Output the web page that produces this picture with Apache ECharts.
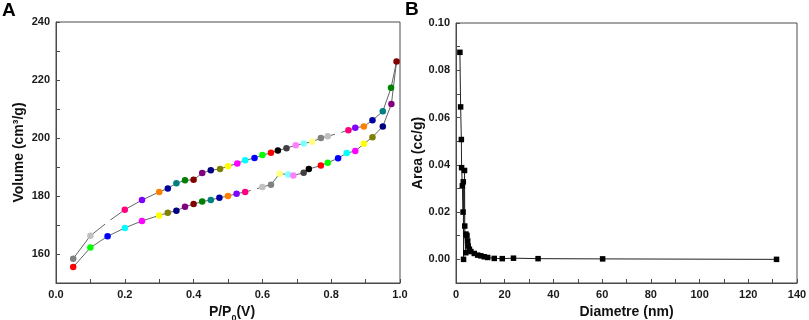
<!DOCTYPE html>
<html><head><meta charset="utf-8">
<script src="https://cdn.jsdelivr.net/npm/echarts@6/dist/echarts.min.js"></script>
<style>html,body{margin:0;padding:0;background:#fff}#c{width:809px;height:320px}</style>
</head><body><div id="c"></div>
<script>
// Panel A: N2 isotherm, adsorption (lower) then desorption (upper)
const adsP = [0.05,0.10,0.15,0.20,0.25,0.30,0.325,0.35,0.375,0.40,0.425,0.45,0.475,0.50,0.525,0.55,0.575,0.60,0.625,0.65,0.675,0.69,0.72,0.735,0.77,0.79,0.82,0.845,0.87,0.895,0.92,0.95,0.975,0.99];
const adsV = [155.5,162.2,166.1,169.0,171.4,173.3,174.2,174.9,176.3,177.2,178.1,178.6,179.4,180.0,180.8,181.4,182.2,183.1,183.9,187.7,187.4,187.1,188.0,189.3,190.5,191.5,193.0,194.8,195.5,198.0,200.3,204.0,211.7,226.4];
const desP = [0.974,0.95,0.92,0.895,0.87,0.85,0.82,0.79,0.77,0.745,0.72,0.697,0.67,0.645,0.625,0.60,0.577,0.55,0.527,0.50,0.477,0.45,0.425,0.40,0.375,0.35,0.325,0.30,0.25,0.20,0.15,0.10,0.05];
const desV = [217.3,209.2,206.1,204.0,203.5,202.7,201.6,200.6,200.0,198.7,198.1,197.5,196.5,195.7,194.9,194.1,193.1,192.3,191.2,190.3,189.3,188.9,187.9,185.6,185.4,184.4,182.6,181.4,178.6,175.3,171.0,166.3,158.4];
// Panel B: pore size distribution
const diam = [1.6,1.9,2.2,2.3,2.6,2.9,3.0,3.1,3.5,3.6,4.0,4.1,4.5,4.8,5.0,5.5,6.1,7.5,8.9,10.2,11.6,13.0,15.7,19.0,23.6,33.7,60.2,131.6];
const area = [0.0876,0.0645,0.0507,0.0388,0.0311,0.0200,0.0328,0.0000,0.0376,0.0141,0.0028,0.0107,0.0101,0.0078,0.0057,0.0043,0.0033,0.0025,0.0018,0.0015,0.0011,0.0008,0.0004,0.0003,0.0005,0.0003,0.0002,0.0000];
// Origin default colour cycle used for the isotherm points
const originPalette = ['#000000','#FF0000','#00FF00','#0000FF','#00FFFF','#FF00FF','#FFFF00','#808000','#000080','#800080','#800000','#008000','#008080','#0000A0','#FF8000','#8000FF','#FF0080','#FFFFFF','#C0C0C0','#808080','#FFFF80','#80FFFF','#FF80FF','#404040'];
const xTicksA = ['0.0','0.2','0.4','0.6','0.8','1.0'];

const isoP = adsP.concat(desP), isoV = adsV.concat(desV);
const isoData = isoP.map((p,i)=>({value:[p,isoV[i]], itemStyle:{color: originPalette[(i+1)%originPalette.length]}}));
const psdData = diam.map((d,i)=>[d,area[i]]);

const FONT = 'Liberation Sans, Arial, sans-serif';
const lineCol = '#4a4a4a';
function labelStyle(fmt){
  return {fontFamily:FONT,fontWeight:'bold',fontSize:11,color:'#1a1a1a',margin:6,interval:0,formatter:fmt};
}
function axisCommon(extra){
  return Object.assign({
    axisLine:{show:true,onZero:false,lineStyle:{color:lineCol,width:1}},
    axisTick:{show:true,inside:true,length:4,lineStyle:{color:lineCol,width:1}},
    splitLine:{show:false},
    nameLocation:'middle',
    nameTextStyle:{fontFamily:FONT,fontWeight:'bold',fontSize:14,color:'#111'}
  }, extra);
}
const chart = echarts.init(document.getElementById('c'), null, {renderer:'canvas'});
chart.setOption({
  animation:false,
  backgroundColor:'#fff',
  graphic:[
    {type:'text',left:2,top:1,style:{text:'A',font:'bold 19px '+FONT,fill:'#000'}},
    {type:'text',left:405,top:0,style:{text:'B',font:'bold 19px '+FONT,fill:'#000'}}
  ],
  grid:[
    {left:56,top:22,width:344,height:261,show:true,borderColor:lineCol,borderWidth:1,containLabel:false,outerBoundsMode:'none'},
    {left:456,top:23,width:341,height:260,show:true,borderColor:lineCol,borderWidth:1,containLabel:false,outerBoundsMode:'none'}
  ],
  xAxis:[
    axisCommon({gridIndex:0,type:'value',min:0,max:1,interval:0.1,name:'{m|P/P}{s|0}{m|(V)}',nameGap:11,
      nameTextStyle:{fontFamily:FONT,fontWeight:'bold',fontSize:14,color:'#111',padding:[0,0,0,8],
        rich:{m:{fontFamily:FONT,fontWeight:'bold',fontSize:14,color:'#111',lineHeight:16,verticalAlign:'top'},
              s:{fontFamily:FONT,fontWeight:'bold',fontSize:9,color:'#111',lineHeight:10,padding:[9,0,0,0],verticalAlign:'top'}}},
      axisLabel:labelStyle(v=>{const k=Math.round(v*10);return k%2===0?xTicksA[k/2]:'';})}),
    axisCommon({gridIndex:1,type:'value',min:0,max:140,interval:10,name:'Diametre (nm)',nameGap:10,
      axisLabel:labelStyle(v=>(Math.round(v)%20===0?String(Math.round(v)):''))})
  ],
  yAxis:[
    axisCommon({gridIndex:0,type:'value',min:150,max:240,interval:10,name:'Volume (cm\u00b3/g)',nameGap:30,
      axisLabel:labelStyle(v=>(Math.round(v)%20===0?String(Math.round(v)):''))}),
    axisCommon({gridIndex:1,type:'value',min:-0.01,max:0.10,interval:0.01,name:'Area (cc/g)',nameGap:31,
      axisLabel:labelStyle(v=>{const k=Math.round(v*100);return (k>=0&&k%2===0)?(k/100).toFixed(2):'';})})
  ],
  series:[
    {type:'line',xAxisIndex:0,yAxisIndex:0,data:isoData,symbol:'circle',symbolSize:6.5,
      lineStyle:{color:'#666',width:1},itemStyle:{borderWidth:0},emphasis:{disabled:true},z:3},
    {type:'line',xAxisIndex:1,yAxisIndex:1,data:psdData,symbol:'rect',symbolSize:5.5,
      lineStyle:{color:'#222',width:1},itemStyle:{color:'#000',borderWidth:0},emphasis:{disabled:true}}
  ]
});
</script></body></html>
